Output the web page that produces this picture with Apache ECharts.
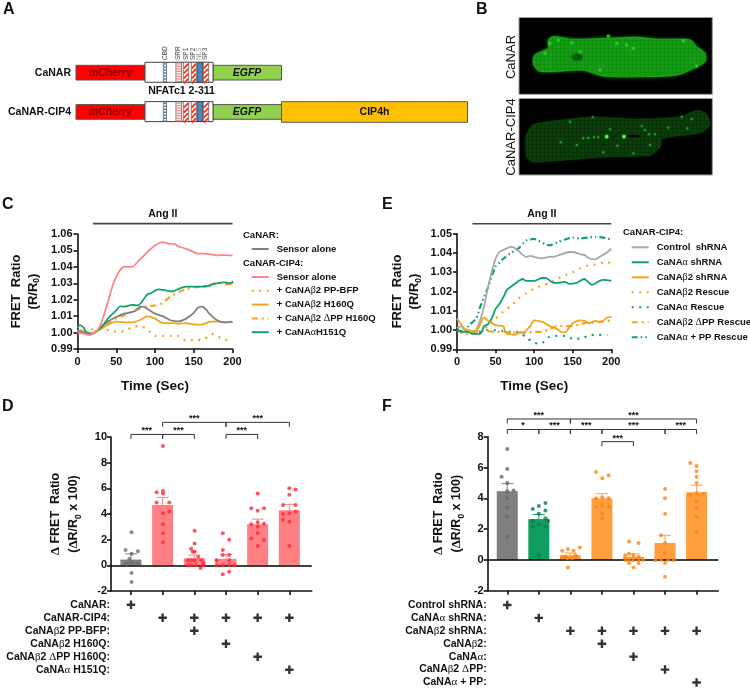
<!DOCTYPE html>
<html><head><meta charset="utf-8">
<script src="https://cdn.jsdelivr.net/npm/echarts@6/dist/echarts.min.js"></script>
<style>html,body{margin:0;padding:0;background:#fff}#c{width:750px;height:689px}</style>
</head><body><div id="c"></div>
<script>
// ---------- Panel C traces ----------
const cCanarSensor=[[0,1.001],[10,.9995],[15,.999],[20,.9995],[30,1.003],[40,1.007],[50,1.0095],[60,1.0115],[70,1.0125],[75,1.0135],[80,1.0155],[85,1.0158],[90,1.0145],[100,1.0115],[110,1.01],[120,1.0075],[130,1.0068],[140,1.0085],[150,1.012],[155,1.015],[160,1.0158],[165,1.0145],[170,1.0115],[180,1.0075],[190,1.0062],[200,1.0065]];
const cCipSensor=[[0,1.0],[10,.999],[15,.9985],[20,.9995],[25,1.001],[30,1.005],[35,1.012],[40,1.02],[45,1.028],[50,1.034],[55,1.038],[60,1.04],[70,1.04],[80,1.0442],[90,1.049],[100,1.053],[110,1.055],[120,1.054],[125,1.054],[130,1.0525],[140,1.051],[150,1.049],[155,1.048],[160,1.048],[170,1.0478],[180,1.047],[190,1.0472],[200,1.047]];
const cPPBFP=[[0,1.001],[10,1.0],[15,1.0015],[20,1.002],[30,1.002],[40,1.0015],[50,1.0005],[60,1.001],[70,1.003],[80,1.004],[90,1.002],[100,.998],[110,.998],[120,.998],[130,.998],[140,.995],[150,.9955],[160,.9955],[170,.998],[175,.999],[180,.998],[190,.9955],[200,.997]];
const cH160Q=[[0,1.001],[5,1.0015],[10,1.0],[15,.999],[20,.9998],[30,1.002],[40,1.005],[50,1.0067],[60,1.0062],[70,1.0062],[80,1.0075],[90,1.0098],[100,1.0085],[110,1.0057],[120,1.0058],[130,1.0055],[140,1.0058],[150,1.005],[160,1.0048],[170,1.0065],[180,1.0068],[190,1.0062],[200,1.0067]];
const cDPPH160Q=[[0,1.001],[20,.9995],[30,1.003],[40,1.006],[50,1.0085],[60,1.0105],[70,1.0125],[80,1.0145],[90,1.016],[100,1.0165],[110,1.018],[120,1.022],[130,1.0245],[140,1.0265],[150,1.0275],[160,1.028],[170,1.029],[180,1.0305],[190,1.0295],[200,1.0295]];
const cAlphaH151Q=[[0,1.003],[3,1.0045],[8,1.003],[10,1.001],[15,.9995],[20,.9995],[30,1.003],[40,1.009],[50,1.0135],[55,1.016],[60,1.0158],[70,1.0168],[78,1.0165],[85,1.02],[90,1.0232],[95,1.024],[100,1.0255],[105,1.0263],[115,1.0255],[122,1.025],[130,1.0265],[140,1.028],[150,1.028],[160,1.028],[170,1.0285],[180,1.03],[190,1.0305],[199,1.03],[200,1.0315]];
// ---------- Panel E traces ----------
const eControl=[[0,1.001],[5,1.002],[10,1.0],[15,.999],[20,.998],[25,1.0],[30,1.005],[35,1.012],[40,1.022],[45,1.03],[50,1.037],[55,1.0405],[60,1.0415],[65,1.0425],[70,1.0432],[75,1.0425],[80,1.041],[85,1.039],[90,1.038],[95,1.0385],[100,1.038],[110,1.0372],[120,1.038],[125,1.038],[135,1.0393],[145,1.0405],[150,1.0405],[160,1.0393],[165,1.039],[170,1.0375],[175,1.0368],[180,1.0368],[185,1.038],[195,1.0405],[200,1.0422]];
const eAlphaSh=[[0,1.0],[10,.999],[15,.999],[20,.998],[30,.998],[35,1.002],[40,1.003],[45,1.006],[50,1.011],[55,1.0135],[60,1.017],[65,1.021],[70,1.0225],[80,1.0255],[85,1.0265],[90,1.0255],[100,1.0255],[110,1.027],[115,1.027],[125,1.0245],[130,1.0245],[140,1.025],[145,1.024],[155,1.0245],[165,1.0265],[170,1.025],[175,1.0235],[185,1.0255],[190,1.026],[200,1.0255]];
const eBetaSh=[[0,1.006],[5,1.003],[10,1.0005],[15,1.0],[25,.9995],[30,1.003],[35,1.0065],[40,1.005],[50,1.0025],[60,1.002],[62,1.0],[65,.998],[70,.9978],[75,.9975],[80,.9985],[87,.9985],[90,1.0],[95,1.002],[100,1.005],[105,1.0048],[112,1.004],[120,1.002],[130,1.0005],[135,.999],[140,.9988],[145,1.001],[150,1.0035],[160,1.005],[165,1.0048],[170,1.0035],[180,1.0048],[185,1.004],[190,1.005],[195,1.0065],[200,1.0068]];
const eBetaRescue=[[0,1.0],[10,.9995],[20,.998],[30,.9995],[40,1.002],[50,1.006],[60,1.0095],[70,1.0125],[80,1.0165],[90,1.019],[100,1.0215],[110,1.023],[120,1.0245],[130,1.0265],[140,1.0285],[150,1.03],[160,1.032],[170,1.0335],[180,1.034],[190,1.035],[200,1.035]];
const eAlphaRescue=[[0,1.001],[10,1.0],[20,.999],[30,.999],[40,1.0],[50,1.0],[60,.9995],[70,.999],[80,.999],[90,.996],[100,.9935],[105,.993],[110,.9932],[120,.9965],[130,.997],[140,.997],[150,.9955],[160,.9955],[170,.997],[180,.9975],[195,.9975]];
const eDPPRescue=[[0,1.0],[10,.998],[20,.9985],[30,.9995],[40,.9995],[50,.999],[60,.999],[70,.9985],[80,.999],[90,.9985],[100,.999],[110,.999],[120,1.0005],[130,1.002],[140,1.002],[150,1.002],[160,1.003],[170,1.004],[180,1.004],[190,1.0045],[200,1.005]];
const eAlphaPPRescue=[[0,1.0],[10,.999],[15,1.002],[20,1.004],[25,1.006],[30,1.012],[40,1.022],[50,1.033],[55,1.035],[60,1.037],[70,1.04],[80,1.0425],[90,1.0465],[100,1.0473],[105,1.0465],[115,1.0445],[120,1.044],[130,1.0455],[140,1.047],[150,1.048],[160,1.0475],[170,1.048],[180,1.0483],[190,1.048],[200,1.047]];
// ---------- Panel D bars ----------
const dMeans=[0.45,4.7,0.55,0.5,3.2,4.3];
const dSems=[0.45,0.6,0.25,0.35,0.4,0.45];
const dDots=[[[.02,2.57],[-.17,1.2],[.22,1.1],[.02,.9],[-.05,.5],[.02,.25],[.22,.15],[-.12,.1],[.02,-.6],[.02,-1.3]],
[[.01,9.3],[-.19,5.7],[.01,5.8],[.01,5.6],[-.19,4.9],[.21,4.9],[.21,4.2],[.01,4.05],[.01,3.2],[.01,2.5],[.01,1.8]],
[[.01,2.7],[-.1,1.3],[.01,1.7],[-.05,1.05],[.01,1.05],[.12,.65],[-.2,.4],[-.1,.4],[.01,.4],[.22,.4],[.3,.15],[-.2,0],[-.1,0],[.05,0],[.2,-.2],[.27,0]],
[[-.1,2.5],[.1,2],[-.1,1.2],[-.1,.8],[.1,.8],[-.3,0],[-.1,0],[.1,0],[.28,0],[-.3,.4],[.1,.4],[.1,-.5],[-.1,-.7]],
[[0,5.6],[-.2,4.45],[0,4.25],[.2,4.45],[-.2,3.2],[0,3.35],[.2,3.25],[-.2,2.1],[0,2.5],[.2,2],[0,1.5],[0,3]],
[[0,6],[.2,5.9],[0,5.5],[-.2,4.7],[.2,4.7],[-.2,4],[0,4.05],[.2,4.2],[-.2,3.55],[0,3.4],[0,1.5]]];
const dRows=['CaNAR:','CaNAR-CIP4:','CaNAβ2 PP-BFP:','CaNAβ2 H160Q:','CaNAβ2 ΔPP H160Q:','CaNAα H151Q:'];
const dPlus=[[0,0],[1,1],[2,1],[3,1],[4,1],[5,1],[2,2],[3,3],[4,4],[5,5]];
const dBrackets=[[0,1,10.2],[1,2,10.2],[3,4,10.2],[1,3,11.14],[3,5,11.14]];
const dBarColors=['#7f7f7f','#ff8084','#ff8084','#ff8084','#ff8084','#ff8084'];
const dDotColors=['#6e6e6e','#ff2a3a','#ff2a3a','#ff2a3a','#ff2a3a','#ff2a3a'];
// ---------- Panel F bars ----------
const fMeans=[4.45,2.65,0.3,4.0,0.2,1.1,4.4];
const fSems=[0.5,0.3,0.15,0.3,0.2,0.5,0.45];
const fDots=[[[0,7.2],[0,5.9],[-.18,5.4],[0,5],[.2,4.5],[0,4.45],[0,4],[0,3.4],[0,2.8],[0,1.5]],
[[.21,3.7],[0,3.5],[-.19,3.3],[.21,3.2],[0,3],[.21,2.7],[-.19,2.55],[.29,2.55],[0,2.3],[-.19,2.15],[.21,2.15],[0,.3]],
[[.3,.8],[-.08,.7],[-.26,.6],[.1,.6],[.16,.3],[-.16,.2],[-.1,.1],[.05,.1],[.2,.2],[-.08,-.5],[-.26,.15]],
[[-.19,5.7],[.21,5.5],[.01,5.3],[-.19,4],[.01,4.05],[.21,4],[.01,3.55],[-.19,3.45],[.21,3.45],[.01,3],[.01,2.7]],
[[-.14,1.2],[.16,1.1],[-.14,.4],[0,.3],[.16,.2],[-.26,.3],[-.26,0],[-.14,0],[0,0],[.16,0],[.3,0],[0,-.5],[-.14,-.2],[.16,-.2]],
[[0,4.6],[0,4],[0,3],[-.13,1.6],[0,1.1],[0,.45],[-.3,0],[-.13,0],[.1,0],[.28,0],[0,-.2],[0,-1.1]],
[[-.2,6.3],[0,6.1],[0,5.75],[0,5.4],[0,5],[-.2,4.2],[0,4.35],[.21,4.3],[0,3.8],[0,3.35],[0,2.8],[0,1.8]]];
const fRows=['Control shRNA:','CaNAα shRNA:','CaNAβ2 shRNA:','CaNAβ2:','CaNAα:','CaNAβ2 ΔPP:','CaNAα + PP:'];
const fPlus=[[0,0],[1,1],[2,2],[3,2],[4,2],[5,2],[6,2],[3,3],[4,4],[5,5],[6,6]];
const fBrackets=[[0,2,9.15,'***'],[2,6,9.15,'***'],[0,1,8.47,'*'],[1,2,8.47,'***'],[2,3,8.47,'***'],[3,5,8.47,'***'],[5,6,8.47,'***'],[3,4,7.68,'***']];
const fBarColors=['#7f7f7f','#0f9d62','#ff9f40','#ff9f40','#ff9f40','#ff9f40','#ff9f40'];
const fDotColors=['#666666','#0b7a4a','#ff8412','#ff8412','#ff8412','#ff8412','#ff8412'];
// ---------- Panel B micrograph outlines / bright spots (in panel pixels x3) ----------
const cell1=[[235,120],[250,110],[310,118],[420,115],[500,112],[560,118],[660,120],[680,140],[705,160],[705,185],[680,200],[620,225],[500,230],[400,228],[340,210],[240,215],[205,212],[190,190],[195,165],[235,145]];
const cell2=[[190,375],[300,358],[370,352],[500,358],[630,352],[680,332],[705,340],[720,370],[700,395],[640,405],[575,415],[570,440],[540,465],[400,470],[300,478],[190,485],[170,470],[170,405]];
const spots1=[[265,120],[305,128],[330,155],[440,130],[470,135],[390,210],[490,145],[680,198],[640,122],[240,130],[415,108],[225,160]];
const spots2=[[410,410],[462,410],[340,415],[355,414],[372,412],[385,412],[300,365],[368,352],[420,388],[515,378],[525,390],[537,403],[555,403],[595,383],[652,385],[665,357],[635,350],[272,427],[442,437],[400,457],[490,460],[540,435],[320,435]];

const FONT='"Liberation Sans",Arial,sans-serif';
const K='#111';
const g=s=>s.replace(/([αβΔ])/g,'{g|$1}');
const rich=sz=>({g:{fontFamily:'"Liberation Serif",serif',fontWeight:'normal',fontSize:sz,color:K}});

function lineSer(name,data,color,type,idx){
  return {type:'line',name,data,xAxisIndex:idx,yAxisIndex:idx,symbol:'none',smooth:0.25,z:3,
    lineStyle:{color,width:type==='solid'?1.8:2.2,type},itemStyle:{color}};
}
function annot(idx,lo,hi,y,label){
  return {type:'custom',xAxisIndex:idx,yAxisIndex:idx,silent:true,data:[[lo,hi,y]],z:4,
    renderItem(p,api){const a=api.coord([api.value(0),api.value(2)]),b=api.coord([api.value(1),api.value(2)]);
      return {type:'group',children:[
       {type:'line',shape:{x1:a[0],y1:a[1],x2:b[0],y2:b[1]},style:{stroke:'#444',lineWidth:1.6}},
       {type:'text',style:{x:(a[0]+b[0])/2,y:a[1]-9.5,text:label,fontFamily:FONT,fontWeight:'bold',fontSize:10.5,fill:K,align:'center',verticalAlign:'middle'}}]};}};
}
function bracket(idx,arr){
  return {type:'custom',xAxisIndex:idx,yAxisIndex:idx,silent:true,z:5,data:arr.map(a=>a.slice(0,3)),
    renderItem(p,api){const a=api.coord([api.value(0),api.value(2)]),b=api.coord([api.value(1),api.value(2)]);
      const label=arr[p.dataIndex][3]||'***';
      return {type:'group',children:[
       {type:'polyline',shape:{points:[[a[0],a[1]+4.5],[a[0],a[1]],[b[0],b[1]],[b[0],b[1]+4.5]]},style:{stroke:'#333',lineWidth:1,fill:'none'}},
       {type:'text',style:{x:(a[0]+b[0])/2,y:a[1]-3.5,text:label,fontFamily:FONT,fontWeight:'bold',fontSize:9,fill:K,align:'center',verticalAlign:'middle'}}]};}};
}
function errSer(idx,means,sems,colors){
  return {type:'custom',xAxisIndex:idx,yAxisIndex:idx,silent:true,z:3,data:means.map((m,i)=>[i,m,sems[i]]),
    renderItem(p,api){const x=api.value(0),m=api.value(1),s=api.value(2);
      const t=api.coord([x,m+s]),bt=api.coord([x,m-s]);const c=colors[p.dataIndex];
      return {type:'group',children:[
       {type:'line',shape:{x1:t[0],y1:t[1],x2:bt[0],y2:bt[1]},style:{stroke:c,lineWidth:1}},
       {type:'line',shape:{x1:t[0]-6,y1:t[1],x2:t[0]+6,y2:t[1]},style:{stroke:c,lineWidth:1}}]};}};
}
function barSet(idx,means,colors,dots,dotColors){
  const out=[{type:'bar',xAxisIndex:idx,yAxisIndex:idx,barWidth:21,z:2,silent:true,
    data:means.map((m,i)=>({value:[i,m],itemStyle:{color:colors[i]}})),
    markLine:{silent:true,symbol:'none',label:{show:false},lineStyle:{color:'#000',width:1.6,type:'solid'},data:[{yAxis:0}],animation:false,z:6}}];
  const pts=[];dots.forEach((arr,i)=>arr.forEach(d=>pts.push({value:[i+d[0],d[1]],itemStyle:{color:dotColors[i]}})));
  out.push({type:'scatter',xAxisIndex:idx,yAxisIndex:idx,symbolSize:4,z:7,silent:true,data:pts});
  return out;
}
const plusPath='path://M3.6 0H6.4V3.6H10V6.4H6.4V10H3.6V6.4H0V3.6H3.6Z';
function plusSer(ix,iy,plus,rows){
  return {type:'scatter',xAxisIndex:ix,yAxisIndex:iy,symbol:plusPath,symbolSize:8.5,itemStyle:{color:'#000'},silent:true,
    data:plus.map(p=>[p[0],rows[p[1]]])};
}
const timeAxis=(gi)=>({type:'value',gridIndex:gi,min:0,max:200,interval:50,
  axisLine:{show:true,onZero:false,lineStyle:{color:K,width:1.6}},axisTick:{show:true,length:4,lineStyle:{color:K,width:1.6}},splitLine:{show:false},
  axisLabel:{color:K,fontFamily:FONT,fontWeight:'bold',fontSize:11,margin:7},
  name:'Time (Sec)',nameLocation:'middle',nameGap:30,nameTextStyle:{color:K,fontFamily:FONT,fontWeight:'bold',fontSize:13.5}});
const ratioAxis=(gi,max,gap)=>({type:'value',gridIndex:gi,min:0.99,max,interval:0.01,
  axisLine:{show:true,onZero:false,lineStyle:{color:K,width:1.6}},axisTick:{show:true,length:4,lineStyle:{color:K,width:1.6}},splitLine:{show:false},
  axisLabel:{color:K,fontFamily:FONT,fontWeight:'bold',fontSize:11,margin:5,formatter:v=>v.toFixed(2)},
  name:'FRET  Ratio\n(R/R{s|0})',nameLocation:'middle',nameGap:gap,nameRotate:90,
  nameTextStyle:{color:K,fontFamily:FONT,fontWeight:'bold',fontSize:13,lineHeight:17,rich:{s:{fontSize:8.5,fontWeight:'bold',fontFamily:FONT,verticalAlign:'bottom',color:K,padding:[5,0,0,0]}}}});
const catAxis=(gi,lo,hi,n)=>({type:'value',gridIndex:gi,min:lo,max:hi,
  axisLine:{show:true,onZero:false,lineStyle:{color:K,width:1.6}},
  axisTick:{show:true,length:4,lineStyle:{color:K,width:1.6},customValues:Array.from({length:n},(_,i)=>i)},
  axisLabel:{show:false},splitLine:{show:false}});
const deltaAxis=(gi,max,gap)=>({type:'value',gridIndex:gi,min:-2,max,interval:2,
  axisLine:{show:true,onZero:false,lineStyle:{color:K,width:1.6}},axisTick:{show:true,length:4,lineStyle:{color:K,width:1.6}},splitLine:{show:false},
  axisLabel:{color:K,fontFamily:FONT,fontWeight:'bold',fontSize:11,margin:4},
  name:'{g2|Δ} FRET  Ratio\n({g2|Δ}R/R{s|0} x 100)',nameLocation:'middle',nameGap:gap,nameRotate:90,
  nameTextStyle:{color:K,fontFamily:FONT,fontWeight:'bold',fontSize:12.5,lineHeight:18,
    rich:{s:{fontSize:8.5,fontWeight:'bold',fontFamily:FONT,verticalAlign:'bottom',color:K,padding:[5,0,0,0]},g2:{fontFamily:'"Liberation Serif",serif',fontSize:13,color:K}}}});
const rowAxis=(gi,rows)=>({type:'category',gridIndex:gi,data:rows,inverse:true,
  axisLine:{show:false},axisTick:{show:false},splitLine:{show:false},
  axisLabel:{interval:0,color:K,fontFamily:FONT,fontWeight:'bold',fontSize:10.5,margin:1,formatter:s=>g(s),rich:rich(11)}});
const hiddenX=(gi,lo,hi)=>({type:'value',gridIndex:gi,min:lo,max:hi,show:false});
const legend=(left,top,names,strip,gap)=>({left,top,orient:'vertical',itemWidth:17,itemHeight:10,itemGap:gap,selectedMode:false,padding:0,
  itemStyle:{opacity:0},
  data:names,formatter:n=>g(n.replace(strip,'')),textStyle:{color:K,fontFamily:FONT,fontWeight:'bold',fontSize:9.5,padding:[0,0,0,3],rich:rich(10)}});

// ---------- static graphics (schematic A, micrographs B, panel letters) ----------
const G=[];
const R=(x,y,w,h,fill,stroke,lw)=>G.push({type:'rect',shape:{x,y,width:w,height:h},silent:true,style:{fill,stroke:stroke||'none',lineWidth:lw||1}});
const T=(x,y,text,o={})=>G.push({type:'text',x,y,rotation:o.rot||0,silent:true,z:10,style:{text,fontFamily:FONT,fontWeight:o.w||'bold',fontStyle:o.i?'italic':'normal',fontSize:o.s||10.5,fill:o.c||K,align:o.a||'center',verticalAlign:'middle'}});
const LN=(x1,y1,x2,y2,c,lw)=>G.push({type:'line',shape:{x1,y1,x2,y2},silent:true,style:{stroke:c,lineWidth:lw||1}});
[['A',3,10],['B',476,10],['C',2,205],['E',382,205],['D',2,407],['F',382,407]].forEach(p=>T(p[1],p[2],p[0],{s:16,a:'left'}));
function construct(y0,label){
  const tall=y0-3, H=20, S=14.7, edge='#555';
  T(71,y0+7.5,label,{s:10.5,a:'right'});
  R(76,y0,69,S,'#ff0000',edge,1);
  T(110.5,y0+7.5,'mCherry',{i:1,s:10.5,c:'#7a0000'});
  R(213,y0,68.5,S,'#92d050',edge,1);
  T(247,y0+7.5,'EGFP',{i:1,s:10.5});
  R(145,tall,68,H,'#fff','#444',1);
  R(163.3,tall,3.2,H,'#fff','#222',.6);
  for(let y=tall+1;y<tall+H;y+=3)R(164,y,1.8,1.5,'#2d6fb8');
  R(176,tall,5.4,H,'#fff','#222',.6);
  for(let y=tall+1;y<tall+H;y+=2.5){R(176.6,y,4.2,1.2,'#ff7d7d');}
  [[183.3,5.4],[191.3,5],[203.3,5.4]].forEach(b=>{
    R(b[0],tall,b[1],H,'#fff','#222',.6);
    for(let k=0;k<4;k++){const yy=tall+3+k*5;
      LN(b[0]+.5,yy+3,b[0]+b[1]-.5,yy-1.5,'#ff3010',1.8);}
  });
  R(197.3,tall,5.4,H,'#4f81bd','#222',.6);
}
construct(65.3,'CaNAR');
construct(104.6,'CaNAR-CIP4');
R(281.5,101.7,186,20.6,'#ffc000','#555',1);
T(374.5,112,'CIP4h',{s:10.5});
T(181.5,91,'NFATc1 2-311',{s:10.5});
[['CBD',165],['SRR',178.5],['SP1',186],['SP2',193],['NLS',199],['SP3',205.5]].forEach(l=>{
  G.push({type:'text',x:l[1],y:60,rotation:Math.PI/2,silent:true,z:10,style:{text:l[0],fontFamily:FONT,fontSize:6.5,fill:l[0]==='NLS'?'#999':'#444',align:'left',verticalAlign:'middle'}});
});
// B
const P=([x,y])=>[470+x/3,y/3];
function tex(base,dark){const c=document.createElement('canvas');c.width=c.height=4;const x=c.getContext('2d');
  x.fillStyle=base;x.fillRect(0,0,4,4);x.fillStyle=dark;x.fillRect(0,0,4,1);x.fillRect(0,0,1,4);return c;}
R(519,17.5,193.3,76.8,'#000','#999',1);
R(519,98.5,193.3,76.5,'#000','#999',1);
G.push({type:'polygon',silent:true,shape:{points:cell1.map(P),smooth:.25},style:{fill:{image:tex('#14a014','#0f900f'),repeat:'repeat'},stroke:'#1aa81a',lineWidth:1,shadowBlur:3,shadowColor:'#0e8f0e'}});
G.push({type:'polygon',silent:true,shape:{points:cell2.map(P),smooth:.2},style:{fill:{image:tex('#0a3f0a','#073207'),repeat:'repeat'},stroke:'#0a440a',lineWidth:.8,shadowBlur:2,shadowColor:'#0a3a0a'}});
spots1.forEach(s=>{const p=P(s);G.push({type:'circle',silent:true,shape:{cx:p[0],cy:p[1],r:1.5},style:{fill:'#2fcc2f',shadowBlur:3,shadowColor:'#2ac02a'}});});
G.push({type:'ellipse',silent:true,shape:{cx:470+322/3,cy:172/3,rx:5,ry:3},style:{fill:'#075a07',shadowBlur:3,shadowColor:'#064a06'}});
spots2.forEach((s,i)=>{const p=P(s);G.push({type:'circle',silent:true,shape:{cx:p[0],cy:p[1],r:i<2?1.8:1},style:{fill:i<2?'#4bff4b':'#1fb01f',shadowBlur:2,shadowColor:'#1fc01f'}});});
G.push({type:'ellipse',silent:true,shape:{cx:470+490/3,cy:408/3,rx:7,ry:1.6},style:{fill:'#020a02'}});
T(511,57,'CaNAR',{rot:Math.PI/2,w:'normal',s:13});
T(511,137,'CaNAR-CIP4',{rot:Math.PI/2,w:'normal',s:13});
// legend headers
T(243,235.5,'CaNAR:',{s:9.5,a:'left'});
T(243,263,'CaNAR-CIP4:',{s:9.5,a:'left'});
T(623,232,'CaNAR-CIP4:',{s:9.5,a:'left'});

const ORANGE='#f2a51c',GREEN='#12a071',PINK='#ff8589',GREY='#808080',LGREY='#a8a8a8';
const DOT=[2,5.5],DD=[6,4,2,4],DDD=[6,3,1.5,3,1.5,3];
const nC=['CaNAR: Sensor alone','CIP4: Sensor alone','+ CaNAβ2 PP-BFP','+ CaNAβ2 H160Q','+ CaNAβ2 ΔPP H160Q','+ CaNAαH151Q'];
const nE=['Control  shRNA','CaNAα shRNA','CaNAβ2 shRNA','CaNAβ2 Rescue','CaNAα Rescue','CaNAβ2 ΔPP Rescue','CaNAα + PP Rescue'];
const dX=[-0.63,5.706], fX=[-0.62,6.688];

const option={animation:false,textStyle:{fontFamily:FONT},
 grid:[
  {left:77.5,top:234,width:155,height:115},
  {left:457,top:233.7,width:154.3,height:115.6},
  {left:111,top:437,width:200.7,height:154},
  {left:487.7,top:436.7,width:230.6,height:154},
  {left:111,top:598.2,width:200.7,height:78},
  {left:487.7,top:598.5,width:230.6,height:91}],
 xAxis:[timeAxis(0),timeAxis(1),catAxis(2,dX[0],dX[1],6),catAxis(3,fX[0],fX[1],7),hiddenX(4,dX[0],dX[1]),hiddenX(5,fX[0],fX[1])],
 yAxis:[ratioAxis(0,1.06,36),ratioAxis(1,1.05,34),deltaAxis(2,10,28),deltaAxis(3,8,22),rowAxis(4,dRows),rowAxis(5,fRows)],
 legend:[legend(250.7,244,[nC[0]],/^.*: /,4),legend(250.7,272,nC.slice(1),/^CIP4: /,3.8),legend(630.7,242.3,nE,/^$/,5)],
 graphic:G,
 series:[
  lineSer(nC[2],cPPBFP,ORANGE,DOT,0),
  lineSer(nC[4],cDPPH160Q,ORANGE,DD,0),
  lineSer(nC[3],cH160Q,ORANGE,'solid',0),
  lineSer(nC[0],cCanarSensor,GREY,'solid',0),
  lineSer(nC[5],cAlphaH151Q,GREEN,'solid',0),
  lineSer(nC[1],cCipSensor,PINK,'solid',0),
  annot(0,20,200,1.0663,'Ang II'),
  lineSer(nE[3],eBetaRescue,ORANGE,DOT,1),
  lineSer(nE[4],eAlphaRescue,GREEN,DOT,1),
  lineSer(nE[5],eDPPRescue,ORANGE,DD,1),
  lineSer(nE[6],eAlphaPPRescue,GREEN,DDD,1),
  lineSer(nE[0],eControl,LGREY,'solid',1),
  lineSer(nE[1],eAlphaSh,GREEN,'solid',1),
  lineSer(nE[2],eBetaSh,ORANGE,'solid',1),
  annot(1,20,200,1.0552,'Ang II'),
  errSer(2,dMeans,dSems,dBarColors),...barSet(2,dMeans,dBarColors,dDots,dDotColors),bracket(2,dBrackets),
  errSer(3,fMeans,fSems,fBarColors),...barSet(3,fMeans,fBarColors,fDots,fDotColors),bracket(3,fBrackets),
  plusSer(4,4,dPlus,dRows),plusSer(5,5,fPlus,fRows)
 ]};
const chart=echarts.init(document.getElementById('c'),null,{renderer:'canvas',width:750,height:689});
chart.setOption(option);
</script></body></html>
